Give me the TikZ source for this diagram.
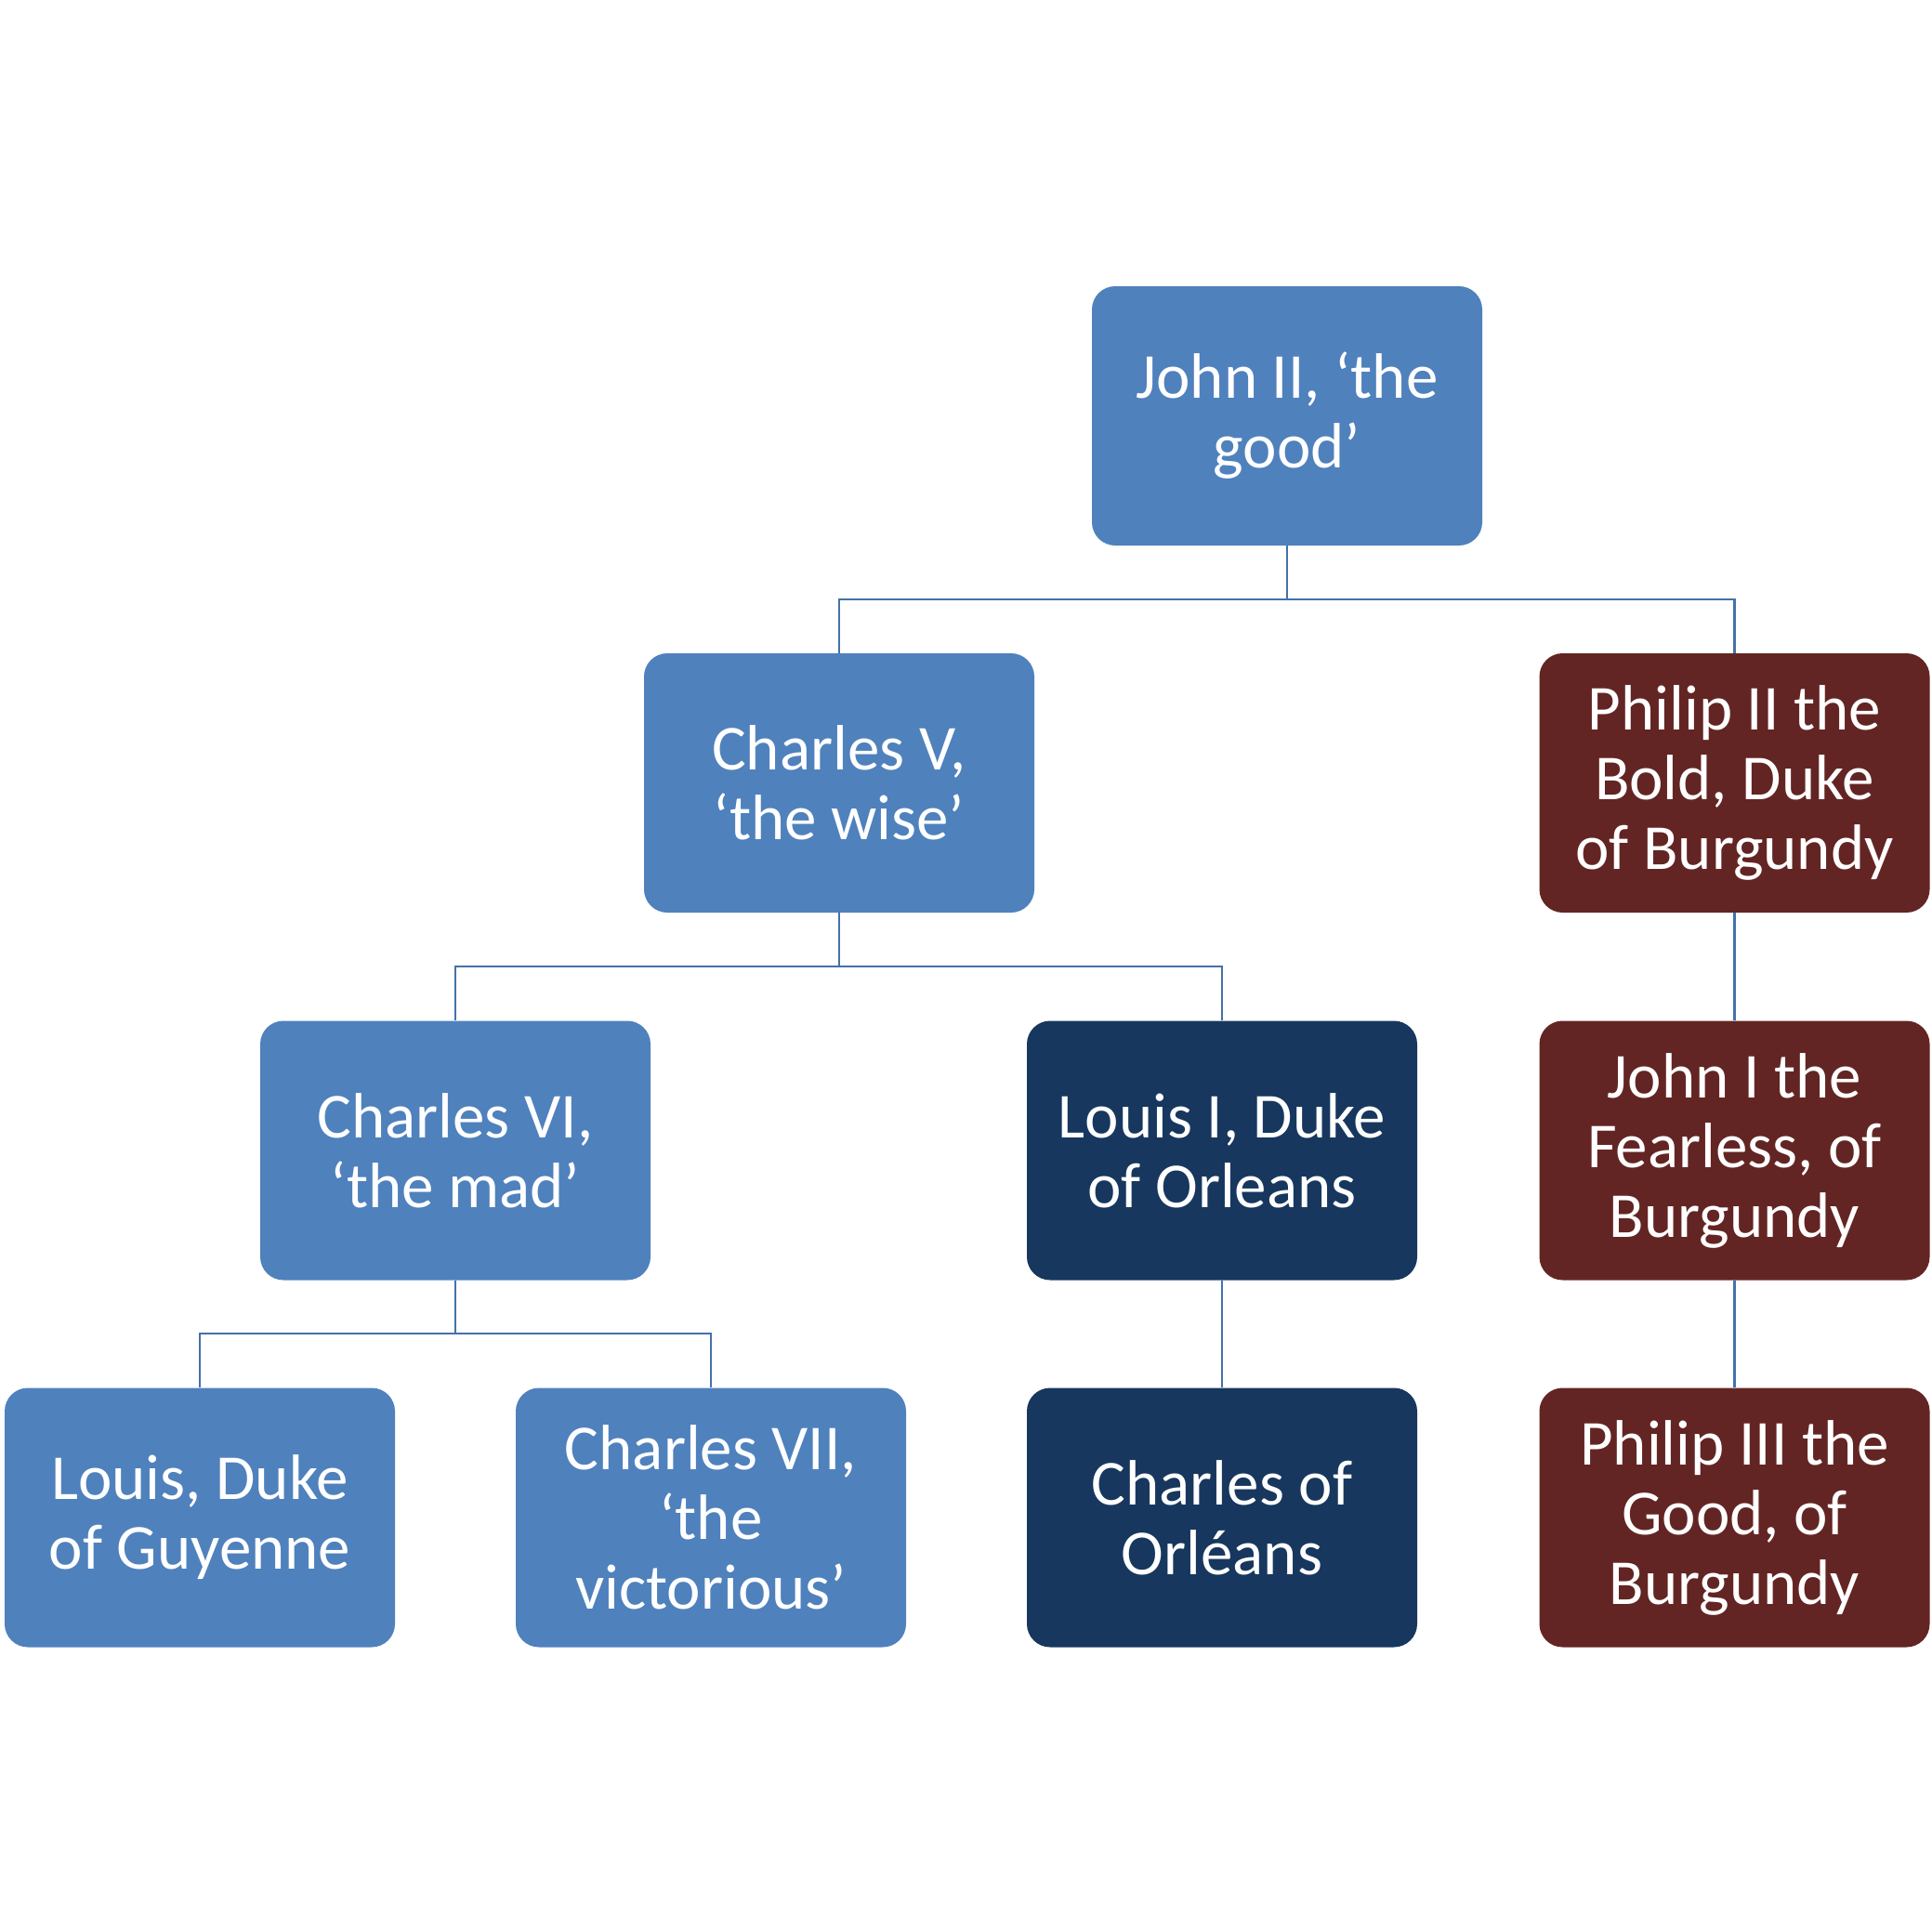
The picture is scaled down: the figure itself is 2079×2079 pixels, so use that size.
\documentclass[tikz,border=0pt]{standalone}
\usepackage{fontspec}
\setmainfont{Carlito}
\definecolor{lblue}{HTML}{4F81BD}
\definecolor{navy}{HTML}{17375E}
\definecolor{maroon}{HTML}{632523}
\definecolor{linec}{HTML}{4372AA}
\tikzset{
  person/.style={rectangle, rounded corners=25pt, minimum width=420pt, minimum height=279pt,
    inner sep=0pt, align=center, text=white, font=\fontsize{69}{75}\selectfont},
  pblue/.style={person, fill=lblue},
  pnavy/.style={person, fill=navy},
  pred/.style={person, fill=maroon},
  conn/.style={draw=linec, line width=2.5pt}
}
\begin{document}
\begin{tikzpicture}[x=1pt,y=-1pt]
\useasboundingbox (0,0) rectangle (2079,2079);
\node[pblue] (john2) at (1385,447.5) {John II, ‘the\\good’};
\node[pblue] (ch5) at (903,842.5) {Charles V,\\‘the wise’};
\node[pred] (ph2) at (1866.5,842.5) {Philip II the\\Bold, Duke\\of Burgundy};
\node[pblue] (ch6) at (490,1238) {Charles VI,\\‘the mad’};
\node[pnavy] (lou1) at (1315,1238) {Louis I, Duke\\of Orleans};
\node[pred] (jo1) at (1866.5,1238) {John I the\\Fearless, of\\Burgundy};
\node[pblue] (louG) at (215,1633) {Louis, Duke\\of Guyenne};
\node[pblue] (ch7) at (765,1633) {Charles VII,\\‘the\\victorious’};
\node[pnavy] (chO) at (1315,1633) {Charles of\\Orléans};
\node[pred] (ph3) at (1866.5,1633) {Philip III the\\Good, of\\Burgundy};
\coordinate (b1) at (1385,645);
\coordinate (b2) at (903,1040);
\coordinate (b3) at (490,1435);
\draw[conn] (john2.south) -- (b1);
\draw[conn] (ch5.north) |- (b1) -| (ph2.north);
\draw[conn] (ch5.south) -- (b2);
\draw[conn] (ch6.north) |- (b2) -| (lou1.north);
\draw[conn] (ch6.south) -- (b3);
\draw[conn] (louG.north) |- (b3) -| (ch7.north);
\draw[conn] (ph2.south) -- (jo1.north);
\draw[conn] (jo1.south) -- (ph3.north);
\draw[conn] (lou1.south) -- (chO.north);
\end{tikzpicture}
\end{document}
